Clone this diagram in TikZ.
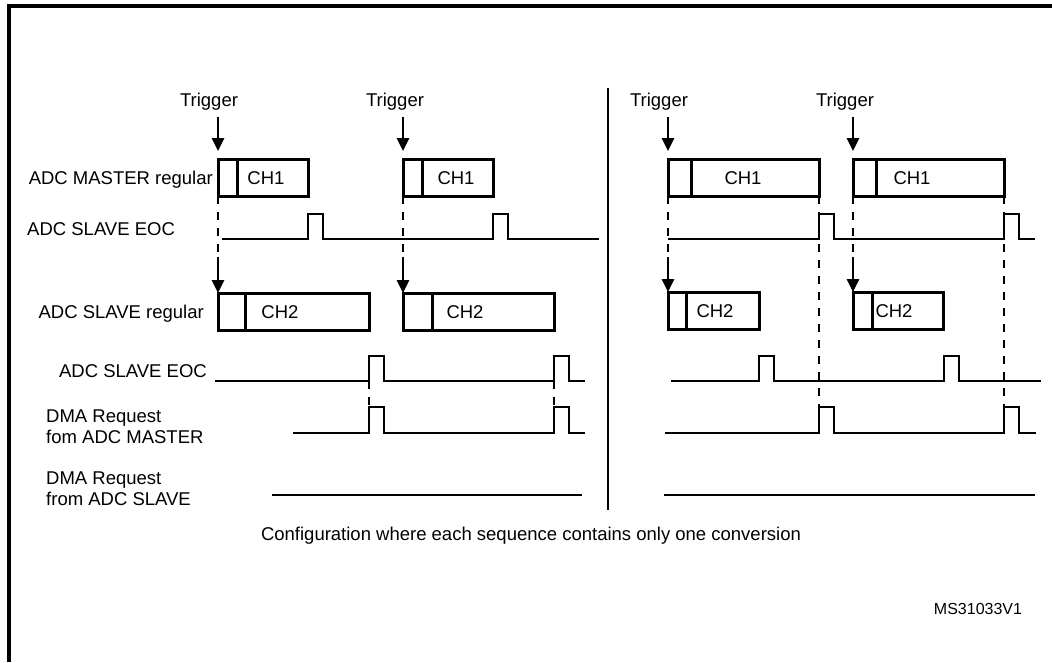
\documentclass[tikz,border=0pt]{standalone}
\usepackage{fontspec}
\setmainfont{Liberation Sans}
\usetikzlibrary{arrows.meta}

\tikzset{
  lbl/.style={font=\fontsize{18.5}{21}\selectfont, inner sep=0pt},
  chbox/.style={draw, line width=3pt, outer sep=0pt, inner sep=0pt, anchor=north west, minimum height=37pt},
  divider/.style={line width=3pt},
  sig/.style={line width=2.6pt},
  guide/.style={line width=2.4pt, dash pattern=on 8pt off 8pt},
  trig/.style={line width=2.6pt, -{Triangle[width=12pt,length=13pt]}}
}

% low level, start, first pulse, second pulse, end, high level
\newcommand{\wave}[6]{%
  \draw[sig] (#2,#1) -- (#3,#1) -- (#3,#6) -- ++(15,0) |- (#4,#1) -- (#4,#6) -- ++(15,0) |- (#5,#1);}

\begin{document}
\begin{tikzpicture}[x=1pt, y=-1pt]
\useasboundingbox (0,0) rectangle (1052,662);

\draw[line width=3.5pt] (9,662) -- (9,6) -- (1052,6); % frame
\draw[line width=2.4pt] (608,88) -- (608,510);        % separator

% Triggers
\node[lbl, anchor=base] (tr1) at (209,106) {Trigger};
\node[lbl, anchor=base] (tr2) at (395,106) {Trigger};
\node[lbl, anchor=base] (tr3) at (659,106) {Trigger};
\node[lbl, anchor=base] (tr4) at (845,106) {Trigger};

% ADC MASTER regular
\node[chbox, minimum width=90pt] (m1) at (218,159) {};
\node[chbox, minimum width=90pt] (m2) at (403,159) {};
\node[chbox, minimum width=151pt] (m3) at (668,159) {};
\node[chbox, minimum width=151pt] (m4) at (853,159) {};
\draw[divider] ([xshift=19pt]m1.north west) -- ([xshift=19pt]m1.south west);
\draw[divider] ([xshift=19pt]m2.north west) -- ([xshift=19pt]m2.south west);
\draw[divider] ([xshift=23pt]m3.north west) -- ([xshift=23pt]m3.south west);
\draw[divider] ([xshift=23pt]m4.north west) -- ([xshift=23pt]m4.south west);
\node[lbl, anchor=base] (ch1a) at (266,184) {CH1};
\node[lbl, anchor=base] (ch1b) at (456,184) {CH1};
\node[lbl, anchor=base] (ch1c) at (743,184) {CH1};
\node[lbl, anchor=base] (ch1d) at (912,184) {CH1};

% ADC SLAVE regular
\node[chbox, minimum width=151pt] (s1) at (218,293) {};
\node[chbox, minimum width=151pt] (s2) at (403,293) {};
\node[chbox, minimum width=91pt] (s3) at (668,292) {};
\node[chbox, minimum width=90pt] (s4) at (853,292) {};
\draw[divider] ([xshift=27pt]s1.north west) -- ([xshift=27pt]s1.south west);
\draw[divider] ([xshift=29pt]s2.north west) -- ([xshift=29pt]s2.south west);
\draw[divider] ([xshift=18pt]s3.north west) -- ([xshift=18pt]s3.south west);
\draw[divider] ([xshift=19pt]s4.north west) -- ([xshift=19pt]s4.south west);
\node[lbl, anchor=base] (ch2a) at (280,318) {CH2};
\node[lbl, anchor=base] (ch2b) at (465,318) {CH2};
\node[lbl, anchor=base] (ch2c) at (715,317) {CH2};
\node[lbl, anchor=base] (ch2d) at (894,317) {CH2};

% trigger arrows
\coordinate (a1) at (218,117);
\coordinate (a2) at (403,117);
\coordinate (a3) at (668,117);
\coordinate (a4) at (853,117);
\draw[trig] (a1) -- ([yshift=8pt]m1.north west);
\draw[trig] (a2) -- ([yshift=8pt]m2.north west);
\draw[trig] (a3) -- ([yshift=8pt]m3.north west);
\draw[trig] (a4) -- ([yshift=8pt]m4.north west);

% master start -> slave start
\coordinate (b1) at (218,257);
\coordinate (b2) at (403,257);
\coordinate (b3) at (668,257);
\coordinate (b4) at (853,257);
\draw[guide] (m1.south west) -- (b1);
\draw[guide] (m2.south west) -- (b2);
\draw[guide] (m3.south west) -- (b3);
\draw[guide] (m4.south west) -- (b4);
\draw[trig] (b1) -- (s1.north west);
\draw[trig] (b2) -- (s2.north west);
\draw[trig] (b3) -- (s3.north west);
\draw[trig] (b4) -- (s4.north west);

% signals
\wave{239}{222}{308}{493}{599}{214} % ADC SLAVE EOC
\wave{239}{668}{819}{1004}{1035}{214}
\wave{381}{215}{369}{554}{585}{356} % ADC SLAVE EOC
\wave{381}{671}{759}{944}{1041}{356}
\wave{433}{293}{369}{554}{585}{407} % DMA master
\wave{433}{665}{819}{1004}{1036}{407}
\draw[sig] (272,495) -- (582,495);   % DMA slave
\draw[sig] (664,495) -- (1035,495);

% end of conversion -> DMA request
\coordinate (e1) at (369,381);
\coordinate (e2) at (554,381);
\coordinate (q1) at (369,407);
\coordinate (q2) at (554,407);
\coordinate (q3) at (819,407);
\coordinate (q4) at (1004,407);
\draw[guide] (e1) -- (q1);
\draw[guide] (e2) -- (q2);
\draw[guide] (m3.south east) -- (q3);
\draw[guide] (m4.south east) -- (q4);

% row labels
\node[lbl, anchor=base east] (lmr) at (213,184) {ADC MASTER regular};
\node[lbl, anchor=base west] (leoc1) at (27,235) {ADC SLAVE EOC};
\node[lbl, anchor=base east] (lsr) at (204,318) {ADC SLAVE regular};
\node[lbl, anchor=base east] (leoc2) at (207,377) {ADC SLAVE EOC};
\node[lbl, anchor=base west] (ldm1) at (46,422) {DMA Request};
\node[lbl, anchor=base west] (ldm2) at (46,443) {fom ADC MASTER};
\node[lbl, anchor=base west] (lds1) at (46,484) {DMA Request};
\node[lbl, anchor=base west] (lds2) at (46,505) {from ADC SLAVE};

\node[lbl, anchor=base] (conf) at (531,540) {Configuration where each sequence contains only one conversion};
\node[lbl, font=\fontsize{16}{19}\selectfont, anchor=base] (ref) at (978,614) {MS31033V1};

\end{tikzpicture}
\end{document}
